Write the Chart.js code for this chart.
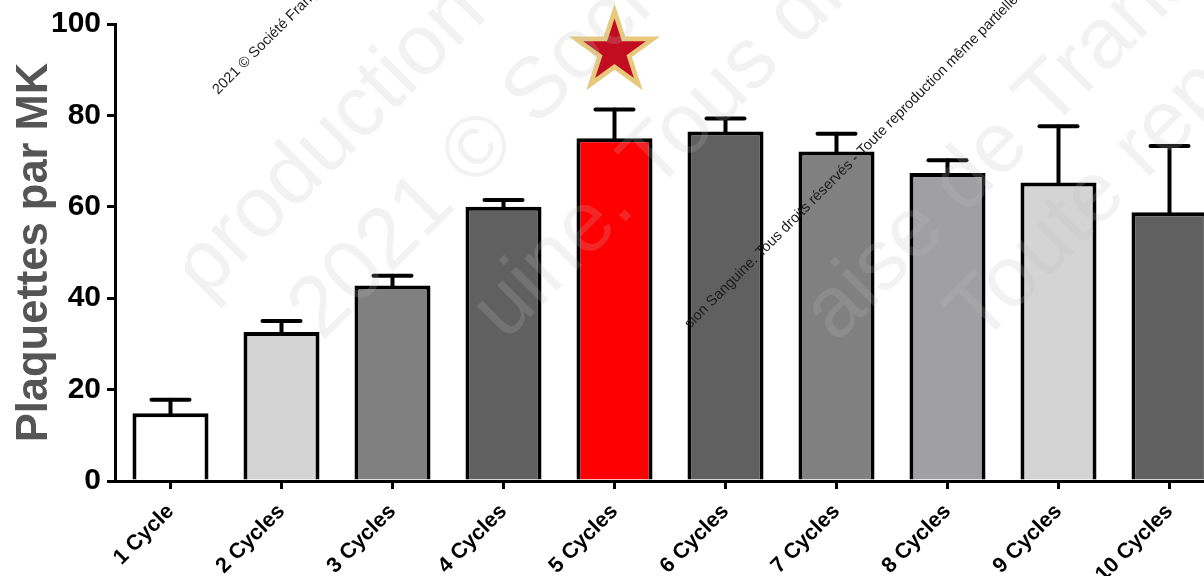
<!DOCTYPE html>
<html>
<head>
<meta charset="utf-8">
<script src="https://cdn.jsdelivr.net/npm/chart.js@4"></script>
<style>
  html, body { margin: 0; padding: 0; background: #fff; overflow: hidden; }
  canvas { display: block; }
</style>
</head>
<body>
<canvas id="chart" width="1225" height="576"></canvas>
<script>
// Platelets per megakaryocyte after successive culture cycles (mean + SD)
const categories = ['1 Cycle', '2 Cycles', '3 Cycles', '4 Cycles', '5 Cycles',
                    '6 Cycles', '7 Cycles', '8 Cycles', '9 Cycles', '10 Cycles'];
const means = [14.8, 32.6, 42.8, 60.0, 75.0, 76.5, 72.1, 67.4, 65.3, 58.8];
const sds   = [3.0, 2.4, 2.1, 1.5, 6.3, 2.8, 3.9, 2.8, 12.3, 14.5];
const barColors = ['#ffffff', '#d4d4d4', '#808080', '#606060', '#ff0000',
                   '#606060', '#808080', '#a0a0a4', '#d4d4d4', '#606060'];
const yTickValues = [0, 20, 40, 60, 80, 100];
const yTitle = 'Plaquettes par MK';

// Highlighted condition (star marker)
const starCategory = '5 Cycles';
const starValue = 94;

// Copyright notices
const noticeLines = [
  '2021 © Société Française de Transfusion Sanguine',
  'sion Sanguine. Tous droits réservés - Toute reproduction même partielle'
];
const faintLines = ['production', '2021 © Société', 'uine. Tous droits',
                    'aise de Transfusion', 'Toute reproduction'];

const FONT = '"Liberation Sans", Arial, Helvetica, sans-serif';

const errorBars = {
  id: 'errorBars',
  afterDatasetsDraw(chart) {
    const ctx = chart.ctx;
    const y = chart.scales.y;
    const meta = chart.getDatasetMeta(0);
    ctx.save();
    ctx.strokeStyle = '#000';
    ctx.lineCap = 'round';
    ctx.lineWidth = 4;
    meta.data.forEach((bar, i) => {
      const top = y.getPixelForValue(means[i] + sds[i]);
      const base = y.getPixelForValue(means[i]);
      ctx.beginPath();
      ctx.moveTo(bar.x, base);
      ctx.lineTo(bar.x, top);
      ctx.stroke();
      ctx.beginPath();
      ctx.moveTo(bar.x - 19, top);
      ctx.lineTo(bar.x + 19, top);
      ctx.stroke();
    });
    ctx.restore();
  }
};

function starPath(ctx, cx, cy, R, r) {
  ctx.beginPath();
  for (let k = 0; k < 10; k++) {
    const rad = k % 2 === 0 ? R : r;
    const a = -Math.PI / 2 + k * Math.PI / 5;
    const px = cx + rad * Math.cos(a);
    const py = cy + rad * Math.sin(a);
    if (k === 0) ctx.moveTo(px, py); else ctx.lineTo(px, py);
  }
  ctx.closePath();
}

const starMarker = {
  id: 'starMarker',
  afterDatasetsDraw(chart) {
    const ctx = chart.ctx;
    const cx = chart.scales.x.getPixelForValue(categories.indexOf(starCategory));
    const cy = chart.scales.y.getPixelForValue(starValue);
    ctx.save();
    starPath(ctx, cx, cy, 48, 48 * 0.382);
    ctx.fillStyle = '#e8c97c';
    ctx.fill();
    starPath(ctx, cx, cy, 33, 33 * 0.382);
    ctx.fillStyle = '#c20d20';
    ctx.fill();
    ctx.restore();
  }
};

const notices = {
  id: 'notices',
  afterDraw(chart) {
    const ctx = chart.ctx;
    ctx.save();
    // large faint overlay text
    ctx.beginPath();
    ctx.rect(185, 0, chart.width, 345);
    ctx.clip();
    ctx.font = '86px ' + FONT;
    ctx.fillStyle = 'rgba(190,190,190,0.2)';
    ctx.textBaseline = 'alphabetic';
    const faintPos = [[205, 300], [322, 342], [505, 342], [836, 344], [980, 346]];
    faintLines.forEach((t, i) => {
      ctx.save();
      ctx.translate(faintPos[i][0], faintPos[i][1]);
      ctx.rotate(-Math.PI / 4);
      ctx.fillText(t, 0, 0);
      ctx.restore();
    });
    ctx.restore();

    // small notices
    ctx.save();
    ctx.font = '14.6px ' + FONT;
    ctx.fillStyle = '#1a1a1a';
    const smallPos = [[218, 95], [690, 329]];
    noticeLines.forEach((t, i) => {
      ctx.save();
      ctx.translate(smallPos[i][0], smallPos[i][1]);
      ctx.rotate(-Math.PI / 4);
      ctx.fillText(t, 0, 0);
      ctx.restore();
    });
    ctx.restore();
  }
};

new Chart(document.getElementById('chart'), {
  type: 'bar',
  data: {
    labels: categories,
    datasets: [{
      data: means,
      backgroundColor: barColors,
      borderColor: '#000',
      borderWidth: 4,
      borderSkipped: 'start',
      barPercentage: 0.685,
      categoryPercentage: 1.0
    }]
  },
  options: {
    responsive: false,
    devicePixelRatio: 1,
    animation: false,
    events: [],
    layout: { padding: { top: 23, left: 0, right: 0, bottom: 0 } },
    plugins: {
      legend: { display: false },
      tooltip: { enabled: false }
    },
    scales: {
      x: {
        offset: true,
        grid: {
          offset: false,
          drawOnChartArea: false,
          drawTicks: true,
          tickLength: 8,
          lineWidth: 3,
          color: '#000'
        },
        border: { display: true, color: '#000', width: 3 },
        ticks: {
          autoSkip: false,
          minRotation: 45,
          maxRotation: 45,
          padding: 10,
          color: '#000',
          font: { family: FONT, size: 21.5, weight: 'bold' }
        },
        afterFit(scale) { scale.height = 95; }
      },
      y: {
        min: 0,
        max: 100,
        afterBuildTicks(scale) { scale.ticks = yTickValues.map(v => ({ value: v })); },
        grid: {
          drawOnChartArea: false,
          drawTicks: true,
          tickLength: 8,
          lineWidth: 3,
          color: '#000'
        },
        border: { display: true, color: '#000', width: 3 },
        ticks: {
          padding: 6,
          color: '#000',
          font: { family: FONT, size: 30, weight: 'bold' }
        },
        title: {
          display: true,
          text: yTitle,
          color: '#555555',
          padding: { top: 9, bottom: 0 },
          font: { family: FONT, size: 43.5, weight: 'bold' }
        },
        afterFit(scale) { scale.width = 115; }
      }
    }
  },
  plugins: [errorBars, starMarker, notices]
});
</script>
</body>
</html>
